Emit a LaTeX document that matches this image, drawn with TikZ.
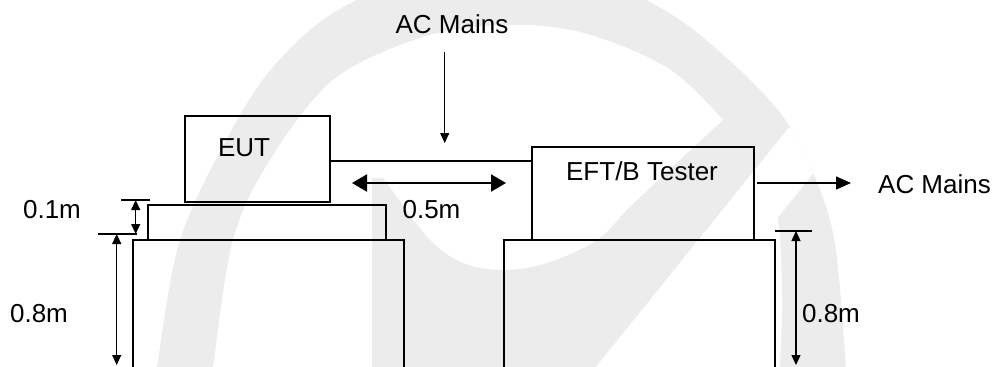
\documentclass[tikz,border=0pt]{standalone}
\usepackage{fontspec}
\setmainfont{Liberation Sans}
\usetikzlibrary{arrows.meta}
\definecolor{wmgray}{RGB}{236,236,236}
\begin{document}
\begin{tikzpicture}[x=1pt,y=-1pt,
  lbl/.style={inner sep=0pt, anchor=base, font=\fontsize{26}{30}\selectfont},
  box/.style={draw, line width=1.4pt, inner sep=0pt, outer sep=0pt},
  wire/.style={line width=2pt},
  thinarr/.style={line width=1pt, -{Triangle[length=10pt,width=9pt]}},
  dblarr/.style={line width=2.2pt, {Triangle[length=15pt,width=17pt]}-{Triangle[length=15pt,width=17pt]}},
  outarr/.style={line width=1.5pt, -{Triangle[length=15pt,width=13pt]}},
  dimarr/.style={line width=1.3pt, {Triangle[length=10pt,width=9pt]}-{Triangle[length=10pt,width=9pt]}},
  dimtick/.style={line width=1.8pt}]
\useasboundingbox (0,0) rectangle (997,367);
\begin{scope}
\clip (0,0) rectangle (997,367);
% ---- watermark ----
\begin{scope}
\clip plot[smooth cycle, tension=0.55] coordinates {(150,420) (157,367) (180,240) (230,133) (273,67) (333,13) (420,-25) (501,-40) (590,-25) (680,20) (760,90) (800,145) (833,233) (846,367) (850,420) (501,470)};
\fill[wmgray] (100,-60) rectangle (900,480);
\fill[white] plot[smooth cycle, tension=0.55] coordinates {(205,420) (213,367) (233,240) (270,160) (333,80) (420,38) (500,25) (580,32) (666,67) (723,120) (760,170) (778,220) (782,300) (780,367) (778,420) (501,460)};
\fill[wmgray] (372,420) -- (372,178) -- plot[smooth, tension=0.6] coordinates {(383,178) (397,197) (430,240) (463,263) (503,270) (547,263) (597,240) (630,207) (680,160) (723,120)} -- (740,100) -- (828,79) -- (577.5,390) -- cycle;
\fill[white] (828,79) -- (874,98) -- (639,390) -- (577.5,390) -- cycle;
\end{scope}
% ---- equipment ----
\node[box, minimum width=145pt, minimum height=86pt] (eut) at (257.5,159) {};
\node[box, minimum width=238pt, minimum height=35pt] (plat) at (267,222.5) {};
\node[box, minimum width=222pt, minimum height=93pt] (tester) at (643,193.5) {};
\node[box, minimum width=271pt, minimum height=160pt] (ltab) at (268.5,320) {};
\node[box, minimum width=271pt, minimum height=160pt] (rtab) at (639.5,320) {};
% ---- labels ----
\node[lbl] (acTop) at (452,33) {AC Mains};
\node[lbl] (eutT) at (244,156) {EUT};
\node[lbl] (d01) at (52,218) {0.1m};
\node[lbl] (d08l) at (39,322) {0.8m};
\node[lbl] (d05) at (431.5,218) {0.5m};
\node[lbl] (testT) at (642,180) {EFT/B Tester};
\node[lbl] (acR) at (934.5,193) {AC Mains};
\node[lbl] (d08r) at (831,322) {0.8m};
% ---- connectors ----
\coordinate (wy) at (0,161);
\draw[wire] (eut.east |- wy) -- (tester.west |- wy);
\coordinate (dnS) at (444.7,52);
\coordinate (dnE) at (444.7,143);
\draw[thinarr] (dnS) -- (dnE);
\coordinate (dL) at (352,183);
\coordinate (dR) at (506,183);
\draw[dblarr] (dL) -- (dR);
\coordinate (raS) at (757,183);
\coordinate (raE) at (851,183);
\draw[outarr] (raS) -- (raE);
% ---- dimensions ----
\coordinate (t1a) at (121,200); \coordinate (t1b) at (150,200);
\coordinate (t2a) at (98,234);  \coordinate (t2b) at (137,234);
\draw[dimtick] (t1a) -- (t1b);
\draw[dimtick] (t2a) -- (t2b);
\coordinate (a1s) at (135.7,200); \coordinate (a1e) at (135.7,234);
\draw[dimarr] (a1s) -- (a1e);
\coordinate (a2s) at (116.7,234); \coordinate (a2e) at (116.7,365);
\draw[dimarr] (a2s) -- (a2e);
\coordinate (t3a) at (775,231); \coordinate (t3b) at (812,231);
\draw[dimtick] (t3a) -- (t3b);
\coordinate (a3s) at (796,231); \coordinate (a3e) at (796,365);
\draw[dimarr] (a3s) -- (a3e);
\end{scope}
\end{tikzpicture}
\end{document}
